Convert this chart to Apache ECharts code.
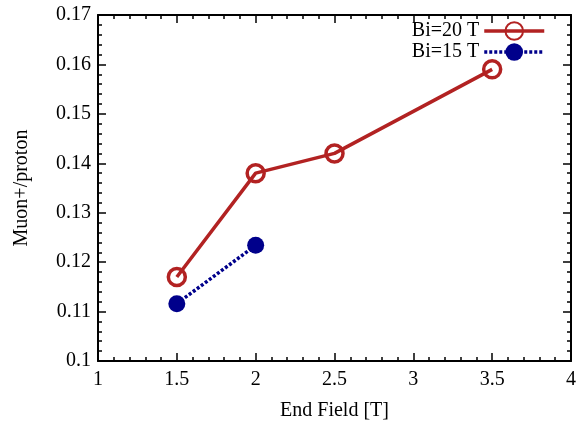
<!DOCTYPE html>
<html><head><meta charset="utf-8">
<script src="https://cdn.jsdelivr.net/npm/echarts@6/dist/echarts.min.js"></script>
<style>html,body{margin:0;padding:0;background:#fff}#c{width:576px;height:422px}</style>
</head><body><div id="c"></div>
<script>
const seriesNames = ["Bi=20 T", "Bi=15 T"];
const xBi20 = [1.5, 2, 2.5, 3.5];
const yBi20 = [0.117, 0.138, 0.142, 0.159];
const xBi15 = [1.5, 2];
const yBi15 = [0.1116, 0.1234];
const xTicks = [1, 1.5, 2, 2.5, 3, 3.5, 4];
const yTicks = [0.1, 0.11, 0.12, 0.13, 0.14, 0.15, 0.16, 0.17];

const F = "Liberation Serif, Times New Roman, serif";
const chart = echarts.init(document.getElementById('c'));
const axisCommon = {
  axisLine: {show: true, onZero: false, lineStyle: {color: '#000', width: 2}},
  axisTick: {show: true, inside: true, length: 8, lineStyle: {color: '#000', width: 1.5}},
  minorTick: {show: true, splitNumber: 5, length: 4, lineStyle: {color: '#000', width: 1.5}},
  splitLine: {show: false}
};
chart.setOption({
  animation: false,
  grid: {left: 98, right: 5, top: 15, bottom: 61, containLabel: false, outerBoundsMode: 'none'},
  legend: {
    right: 25, top: 16, orient: 'vertical', align: 'right', itemGap: 1,
    itemWidth: 60, itemHeight: 22,
    lineStyle: {width: 3.5},
    textStyle: {fontFamily: F, fontSize: 20, color: '#000'},
    data: seriesNames
  },
  xAxis: [
    Object.assign({type: 'value', min: xTicks[0], max: xTicks[xTicks.length-1], interval: 0.5, position: 'bottom',
      name: 'End Field [T]', nameLocation: 'middle', nameGap: 40,
      nameTextStyle: {fontFamily: F, fontSize: 20, color: '#000'},
      axisLabel: {fontFamily: F, fontSize: 20, color: '#000', margin: 9, formatter: v => String(v)}}, axisCommon),
    Object.assign({type: 'value', min: xTicks[0], max: xTicks[xTicks.length-1], interval: 0.5, position: 'top',
      axisLabel: {show: false}}, axisCommon)
  ],
  yAxis: [
    Object.assign({type: 'value', min: yTicks[0], max: yTicks[yTicks.length-1], interval: 0.01, position: 'left',
      name: 'Muon+/proton', nameLocation: 'middle', nameGap: 66, nameRotate: 90,
      nameTextStyle: {fontFamily: F, fontSize: 20, color: '#000'},
      axisLabel: {fontFamily: F, fontSize: 20, color: '#000', margin: 7, formatter: v => String(+v.toFixed(2))}}, axisCommon),
    Object.assign({type: 'value', min: yTicks[0], max: yTicks[yTicks.length-1], interval: 0.01, position: 'right',
      axisLabel: {show: false}}, axisCommon)
  ],
  series: [
    {name: seriesNames[0], type: 'line', data: xBi20.map((x, i) => [x, yBi20[i]]),
     symbol: 'circle', symbolSize: 17,
     lineStyle: {color: '#b22222', width: 3.5},
     itemStyle: {color: 'rgba(255,255,255,0)', borderColor: '#b22222', borderWidth: 3.5}},
    {name: seriesNames[1], type: 'line', data: xBi15.map((x, i) => [x, yBi15[i]]),
     symbol: 'circle', symbolSize: 17,
     lineStyle: {color: '#00008b', width: 3.5, type: [3, 2]},
     itemStyle: {color: '#00008b', borderColor: '#00008b', borderWidth: 0}}
  ]
});
</script></body></html>
